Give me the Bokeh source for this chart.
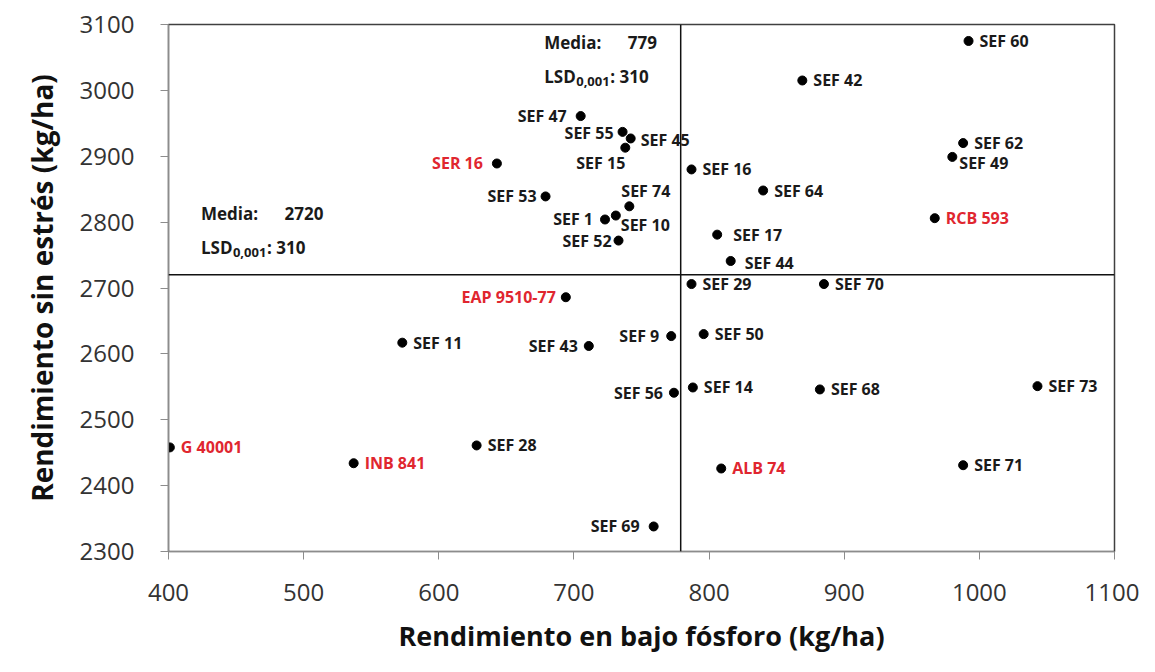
from bokeh.plotting import figure
from bokeh.models import Span, ColumnDataSource, FixedTicker
from bokeh.core.properties import value
from bokeh.embed import file_html
from bokeh.resources import INLINE

# ---- data ----
genotypes = ["SEF 60", "SEF 42", "SEF 47", "SEF 55", "SEF 45", "SEF 15", "SEF 62", "SEF 49",
             "SER 16", "SEF 16", "SEF 64", "SEF 53", "SEF 74", "SEF 10", "SEF 1", "RCB 593",
             "SEF 17", "SEF 52", "SEF 44", "SEF 29", "SEF 70", "EAP 9510-77", "SEF 50", "SEF 9",
             "SEF 11", "SEF 43", "SEF 14", "SEF 73", "SEF 68", "SEF 56", "SEF 28", "G 40001",
             "INB 841", "SEF 71", "ALB 74", "SEF 69"]
yield_low_p = [992, 869, 705, 736, 742, 738, 988, 980,
               643, 787, 840, 679, 741, 731, 723, 967,
               806, 733, 816, 787, 885, 694, 796, 772,
               573, 711, 788, 1043, 882, 774, 628, 401,
               537, 988, 809, 759]
yield_no_stress = [3075, 3015, 2961, 2937, 2927, 2913, 2920, 2899,
                   2889, 2880, 2848, 2839, 2824, 2810, 2804, 2806,
                   2781, 2772, 2741, 2706, 2706, 2686, 2630, 2627,
                   2617, 2612, 2549, 2551, 2546, 2541, 2461, 2458,
                   2434, 2431, 2426, 2338]
checks = ["SER 16", "RCB 593", "EAP 9510-77", "G 40001", "INB 841", "ALB 74"]
mean_low_p = 779
mean_no_stress = 2720
lsd = 310
x_ticks = [400, 500, 600, 700, 800, 900, 1000, 1100]
y_ticks = [2300, 2400, 2500, 2600, 2700, 2800, 2900, 3000, 3100]

# ---- label layout (screen px offsets) ----
label_layout = {
    "SEF 47": ("right", -14, 0), "SEF 55": ("right", -9, 1), "SEF 45": ("left", 10, 2),
    "SEF 15": ("right", 0, 15), "SER 16": ("right", -14, 0), "SEF 53": ("right", -9, 0),
    "SEF 74": ("left", -8, -15), "SEF 1": ("right", -12, 0), "SEF 10": ("left", 5, 9),
    "SEF 52": ("right", -7, 0), "SEF 17": ("left", 16, 0), "SEF 44": ("left", 14, 2),
    "SEF 49": ("left", 7, 6), "EAP 9510-77": ("right", -10, 0), "SEF 43": ("right", -11, 0),
    "SEF 9": ("right", -12, 0), "SEF 56": ("right", -11, 0), "SEF 69": ("right", -14, 0),
}

FONT = "Open Sans"
BLACK = "#1a1a1a"
RED = "#e0262f"

p = figure(frame_width=946, frame_height=527, x_range=(400, 1100), y_range=(2300, 3100),
           output_backend="svg", toolbar_location=None,
           min_border_left=168, min_border_right=25, min_border_top=24, min_border_bottom=105)
p.background_fill_color = "white"
p.border_fill_color = "white"
p.outline_line_color = "#404040"
p.outline_line_width = 1.5
p.xgrid.visible = False
p.ygrid.visible = False

for ax in (p.xaxis[0], p.yaxis[0]):
    ax.axis_line_color = "#8c8c8c"
    ax.axis_line_width = 1.2
    ax.major_tick_line_color = "#8c8c8c"
    ax.major_tick_in = 0
    ax.major_tick_out = 8
    ax.minor_tick_line_color = None
    ax.major_label_text_font = FONT
    ax.major_label_text_font_size = "24px"
    ax.major_label_text_color = "#333333"
    ax.axis_label_text_font = FONT
    ax.axis_label_text_font_style = "bold"
    ax.axis_label_text_color = "#111111"

p.xaxis[0].ticker = FixedTicker(ticks=x_ticks)
p.yaxis[0].ticker = FixedTicker(ticks=y_ticks)
p.xaxis[0].axis_label = "Rendimiento en bajo fósforo (kg/ha)"
p.yaxis[0].axis_label = "Rendimiento sin estrés (kg/ha)"
p.xaxis[0].axis_label_text_font_size = "27px"
p.yaxis[0].axis_label_text_font_size = "28px"
p.xaxis[0].major_label_standoff = 24
p.xaxis[0].axis_label_standoff = 13
p.yaxis[0].major_label_standoff = 26
p.yaxis[0].axis_label_standoff = 16

p.add_layout(Span(location=mean_low_p, dimension="height", line_color="#111111", line_width=1.5))
p.add_layout(Span(location=mean_no_stress, dimension="width", line_color="#111111", line_width=1.5))

p.scatter(yield_low_p, yield_no_stress, size=9, color="black")

for align in ("left", "right"):
    xs, ys, ts, cs, dxs, dys = [], [], [], [], [], []
    for g, xv, yv in zip(genotypes, yield_low_p, yield_no_stress):
        a, dx, dy = label_layout.get(g, ("left", 11, 0))
        if a != align:
            continue
        xs.append(xv); ys.append(yv); ts.append(g)
        cs.append(RED if g in checks else BLACK)
        dxs.append(dx); dys.append(dy)
    src = ColumnDataSource(dict(x=xs, y=ys, t=ts, c=cs, dx=dxs, dy=dys))
    p.text(x="x", y="y", text="t", source=src, text_color="c", x_offset="dx", y_offset="dy",
           text_align=align, text_baseline="middle", text_font=value(FONT),
           text_font_style="bold", text_font_size="16px")

def annot(xv, yv, mean_txt):
    common = dict(text_font=value(FONT), text_font_style="bold", text_color=BLACK,
                  text_baseline="middle", text_align="left")
    p.text(x=[xv], y=[yv], text=["Media:" + "\u00a0" * 6 + mean_txt], text_font_size="17px", **common)
    p.text(x=[xv], y=[yv], text=["LSD"], y_offset=[34], text_font_size="17px", **common)
    p.text(x=[xv], y=[yv], text=["0,001"], x_offset=[32], y_offset=[39], text_font_size="13px", **common)
    p.text(x=[xv], y=[yv], text=[": " + str(lsd)], x_offset=[66], y_offset=[34], text_font_size="17px", **common)

annot(424, 2813, str(mean_no_stress))
annot(678, 3073, str(mean_low_p))

open("out.html", "w").write(file_html(p, INLINE))
